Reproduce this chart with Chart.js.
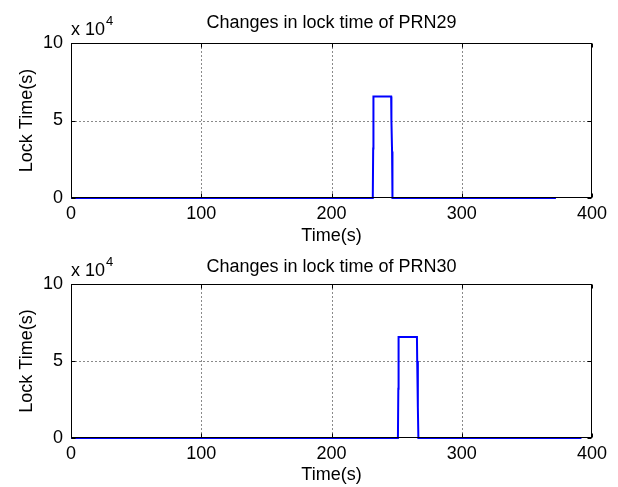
<!DOCTYPE html>
<html><head><meta charset="utf-8">
<script src="https://cdn.jsdelivr.net/npm/chart.js@4.4.1/dist/chart.umd.min.js"></script>
<style>
html,body{margin:0;padding:0;background:#fff;}
#wrap{position:relative;width:618px;height:487px;background:#fff;}
canvas{position:absolute;left:0;top:0;}
</style></head><body>
<div id="wrap">
<canvas id="c1" width="618" height="487"></canvas>
<canvas id="c2" width="618" height="487"></canvas>
</div>
<script>
// ---- data ----
const xTicks = [0, 100, 200, 300, 400];
const yTicks = [0, 50000, 100000];
const yTickLabels = ['0', '5', '10'];
const xLabel = 'Time(s)';
const yLabel = 'Lock Time(s)';
const title29 = 'Changes in lock time of PRN29';
const title30 = 'Changes in lock time of PRN30';
const prn29Time = [0, 231.7, 232.0, 232.2, 245.8, 246.0, 246.5, 246.8, 372.3];
const prn29Lock = [0, 0, 32000, 65535, 65535, 50000, 30000, 0, 0];
const prn30Time = [0, 251.0, 251.3, 251.5, 265.6, 265.8, 266.3, 266.7, 391.9];
const prn30Lock = [0, 0, 32000, 65535, 65535, 50000, 20000, 0, 0];

const FONT = '"Liberation Sans", Arial, sans-serif';

const frame = {
  id: 'frame',
  beforeDatasetsDraw(chart) {
    const {ctx, chartArea: a, scales: {x, y}} = chart;
    ctx.save();
    ctx.strokeStyle = '#8a8a8a';
    ctx.lineWidth = 1;
    ctx.setLineDash([2, 2]);
    xTicks.slice(1, -1).forEach(v => {
      const p = Math.round(x.getPixelForValue(v)) + 0.5;
      ctx.beginPath(); ctx.moveTo(p, a.top); ctx.lineTo(p, a.bottom); ctx.stroke();
    });
    yTicks.slice(1, -1).forEach(v => {
      const p = Math.round(y.getPixelForValue(v)) + 0.5;
      ctx.beginPath(); ctx.moveTo(a.left, p); ctx.lineTo(a.right, p); ctx.stroke();
    });
    ctx.restore();
  },
  afterDatasetsDraw(chart) {
    const {ctx, chartArea: a, scales: {x, y}} = chart;
    ctx.save();
    ctx.strokeStyle = '#000';
    ctx.lineWidth = 1;
    const L = Math.round(a.left) + 0.5, R = Math.round(a.right) - 0.5;
    const T = Math.round(a.top) + 0.5, B = Math.round(a.bottom) - 0.5;
    ctx.strokeRect(L, T, R - L, B - T);
    const tl = 4;
    ctx.beginPath();
    xTicks.forEach(v => {
      const p = Math.round(x.getPixelForValue(v)) + 0.5;
      ctx.moveTo(p, B); ctx.lineTo(p, B - tl);
      ctx.moveTo(p, T); ctx.lineTo(p, T + tl);
    });
    yTicks.forEach(v => {
      const p = Math.round(y.getPixelForValue(v)) + 0.5;
      ctx.moveTo(L, p); ctx.lineTo(L + tl, p);
      ctx.moveTo(R, p); ctx.lineTo(R - tl, p);
    });
    ctx.stroke();
    // exponent label
    ctx.fillStyle = '#000';
    ctx.textBaseline = 'alphabetic';
    ctx.textAlign = 'left';
    ctx.font = '18px ' + FONT;
    const base = 'x 10';
    ctx.fillText(base, a.left, a.top - 8);
    const w = ctx.measureText(base).width;
    ctx.font = '13px ' + FONT;
    ctx.fillText('4', a.left + w + 1, a.top - 18);
    ctx.restore();
  }
};

function makeChart(id, titleText, times, locks, P) {
  const pts = times.map((t, i) => ({x: t, y: locks[i]}));
  const f = {family: FONT, size: 18, weight: 'normal', lineHeight: 1.2};
  return new Chart(document.getElementById(id), {
    type: 'scatter',
    data: {datasets: [{data: pts, showLine: true, borderColor: '#0000ff', backgroundColor: '#0000ff',
      borderWidth: 2, pointRadius: 0, fill: false, tension: 0, clip: false}]},
    options: {
      responsive: false, animation: false, devicePixelRatio: 1,
      layout: {padding: {left: 0, right: 26, top: P.padTop, bottom: P.padBottom}},
      plugins: {
        legend: {display: false}, tooltip: {enabled: false},
        title: {display: true, text: titleText, fullSize: false, color: '#000', font: f,
          padding: {top: P.titleTop, bottom: P.titleBottom}}
      },
      scales: {
        x: {
          type: 'linear', min: 0, max: 400,
          afterBuildTicks: s => { s.ticks = xTicks.map(v => ({value: v})); },
          ticks: {color: '#000', font: f, padding: P.xTickPad, maxRotation: 0, autoSkip: false,
            callback: v => String(v)},
          grid: {display: false, drawTicks: false},
          border: {display: false},
          title: {display: true, text: xLabel, color: '#000', font: f, padding: {top: 0, bottom: 0}},
          afterFit: s => { s.height = P.xH; }
        },
        y: {
          type: 'linear', min: 0, max: 100000,
          afterBuildTicks: s => { s.ticks = yTicks.map(v => ({value: v})); },
          ticks: {color: '#000', font: f, padding: 8, autoSkip: false,
            callback: (v) => yTickLabels[yTicks.indexOf(v)]},
          grid: {display: false, drawTicks: false},
          border: {display: false},
          title: {display: true, text: yLabel, color: '#000', font: f, padding: {top: 16, bottom: 0}},
          afterFit: s => { s.width = 71; }
        }
      }
    },
    plugins: [frame]
  });
}

makeChart('c1', title29, prn29Time, prn29Lock,
  {padTop: 0, padBottom: 240, titleTop: 12, titleBottom: 9.4, xH: 49, xTickPad: 5});
makeChart('c2', title30, prn30Time, prn30Lock,
  {padTop: 244, padBottom: 1, titleTop: 12.2, titleBottom: 6.2, xH: 48, xTickPad: 5});
</script>
</body></html>
